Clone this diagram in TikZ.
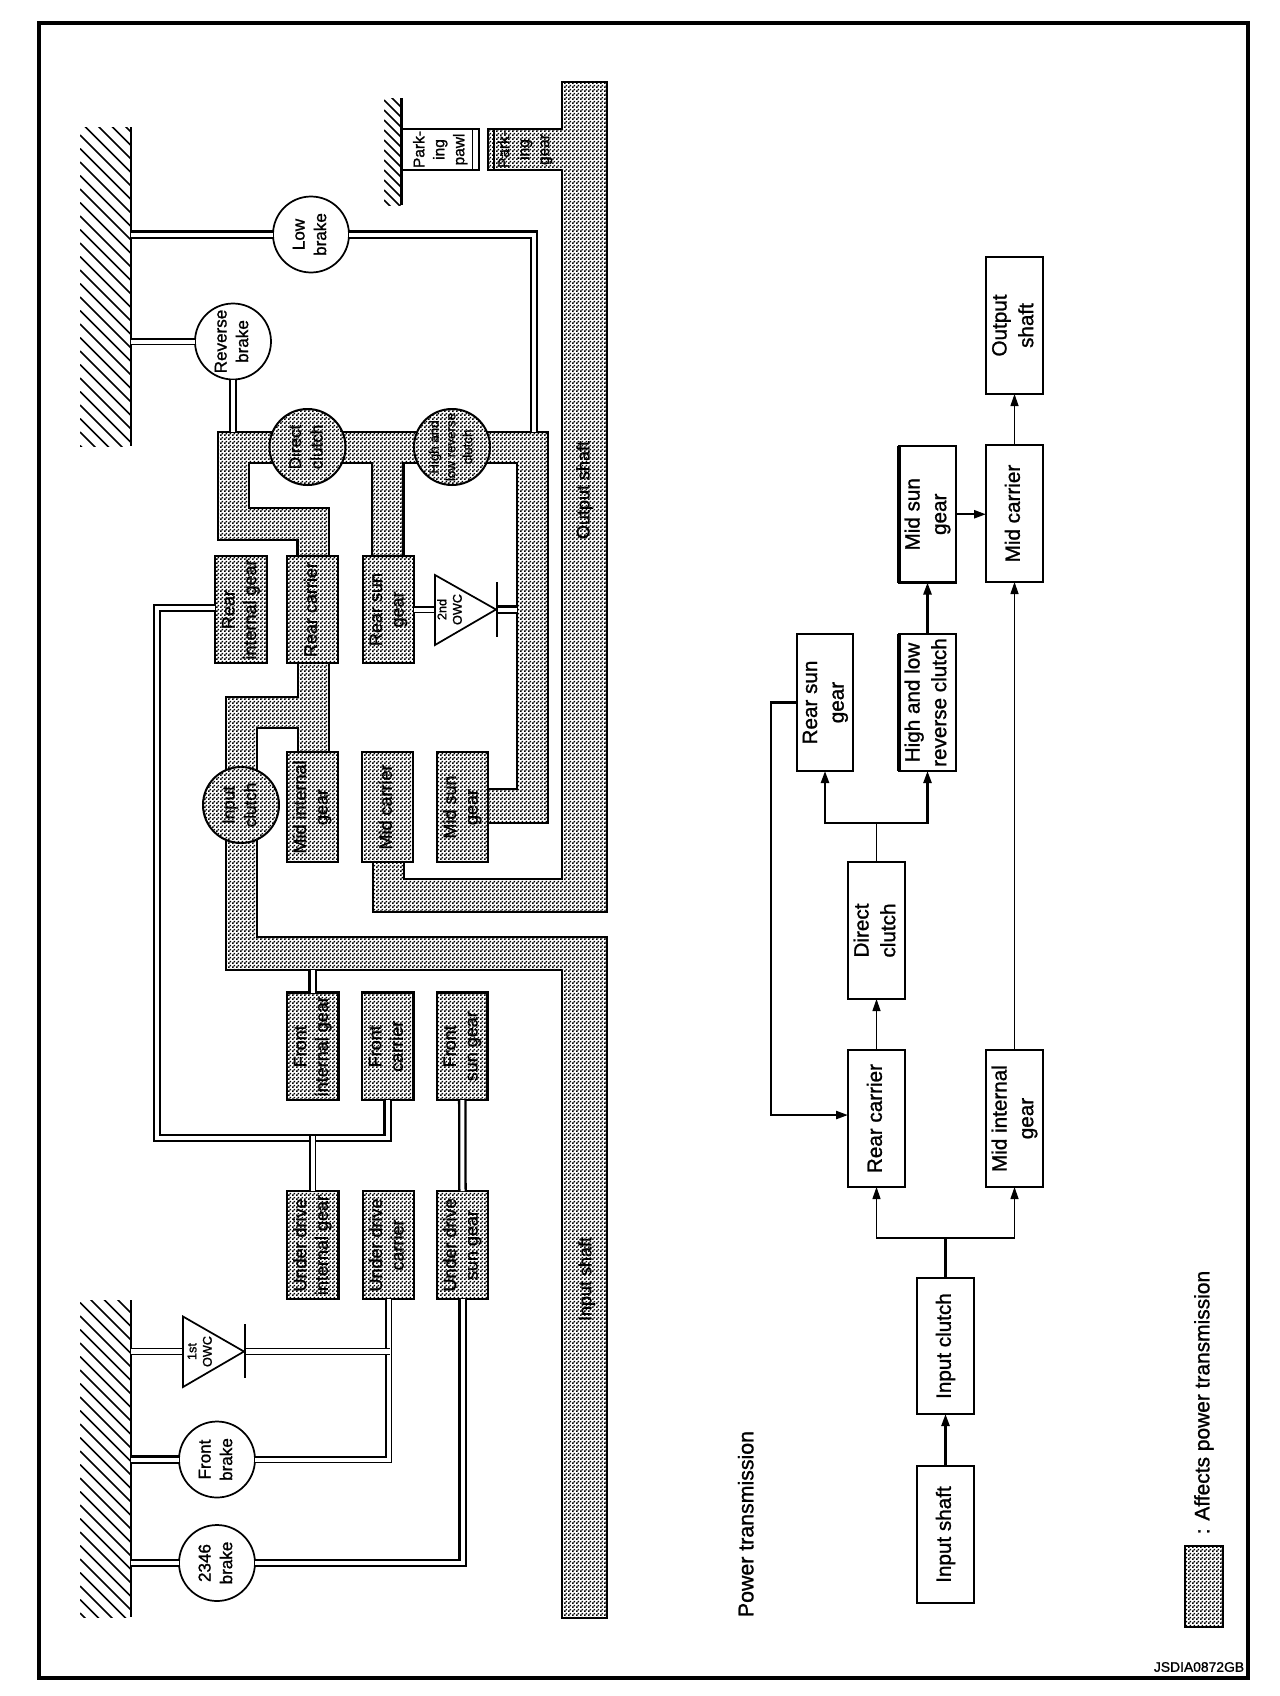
\documentclass[tikz,border=0pt]{standalone}
\usepackage{graphicx}
\usepackage{fontspec}
\setmainfont[FakeBold=1.2]{Liberation Sans}
\usetikzlibrary{patterns,arrows.meta,calc}
\pgfdeclarepatternformonly{dither}{\pgfqpoint{0pt}{0pt}}{\pgfqpoint{3pt}{3pt}}{\pgfqpoint{3pt}{3pt}}{%
  \pgfpathrectangle{\pgfqpoint{0pt}{0pt}}{\pgfqpoint{1.42pt}{1.42pt}}%
  \pgfpathrectangle{\pgfqpoint{1.5pt}{1.5pt}}{\pgfqpoint{1.42pt}{1.42pt}}%
  \pgfusepath{fill}}
\newcommand\rt[1]{\rotatebox{90}{\begin{tabular}{@{}c@{}}#1\end{tabular}}}
% style, x1, y1, x2, y2, name, text
\newcommand\nbox[7]{\node[#1,minimum width={(#4-#2)*0.75pt},minimum height={(#5-#3)*0.75pt}] (#6) at ({(#2+#4)/2},{(#3+#5)/2}) {\rt{#7}};}
% x1,y1,x2,y2,first,second,last
\newcommand\hatchg[7]{\begin{scope}\clip (#1,#2) rectangle (#3,#4);
  \foreach \d in {#5,#6,...,#7} \draw[hatchline] (#1,\d) -- ++(70,70);\end{scope}}
\tikzset{
  shade/.style={preaction={fill=white},pattern=dither,draw,line width=1.6pt,line join=miter},
  gearbox/.style={shade,rectangle,inner sep=0pt,outer sep=0pt,line width=2pt,font=\fontsize{13.5}{16.2}\selectfont},
  flowbox/.style={rectangle,draw,fill=white,inner sep=0pt,outer sep=0pt,line width=1.9pt,font=\fontsize{15.5}{20}\selectfont},
  plainbox/.style={rectangle,draw,fill=white,inner sep=0pt,outer sep=0pt,line width=1.5pt,font=\fontsize{11.6}{15}\selectfont},
  lbl/.style={inner sep=0pt,outer sep=0pt,font=\fontsize{13.5}{16.2}\selectfont},
  disclbl/.style={inner sep=0pt,outer sep=0pt,font=\fontsize{12.8}{16.2}\selectfont},
  anchorbox/.style={rectangle,inner sep=0pt,outer sep=0pt},
  brake/.style={circle,draw,fill=white,line width=1.3pt,inner sep=0pt,outer sep=0pt,minimum size=57pt},
  clutch/.style={circle,shade,line width=1.5pt,inner sep=0pt,outer sep=0pt,minimum size=57pt},
  hatchline/.style={line width=1.1pt},
  wall/.style={line width=2pt},
  dbl/.style={double,line width=1.7pt,double distance=3pt},
  dbln/.style={double,line width=1.2pt,double distance=3pt},
  dblthin/.style={double,line width=0.9pt,double distance=3.6pt},
  owc/.style={draw,fill=white,line width=1.3pt,line join=miter},
  owcbar/.style={line width=1.2pt},
  thinarrow/.style={line width=0.9pt,-{Triangle[width=6pt,length=9pt]}},
  thickarrow/.style={line width=1.8pt,-{Triangle[width=6pt,length=9pt]}},
  thinline/.style={line width=0.9pt},
  thickline/.style={line width=1.8pt},
}
\begin{document}
\begin{tikzpicture}[x=0.75pt,y=-0.75pt]
\useasboundingbox (0,0) rectangle (1280,1696);
\draw[line width=3pt] (39,23) rectangle (1248,1678);

% shaded shafts and drums
\draw[shade] (218,432) -- (548,432) -- (548,823) -- (488,823) -- (488,789) -- (517,789) -- (517,463)
  -- (403.5,463) -- (403.5,556) -- (372,556) -- (372,463) -- (248.6,463) -- (248.6,508) -- (328.6,508)
  -- (328.6,556) -- (297.5,556) -- (297.5,540) -- (218,540) -- cycle;
\draw[shade] (562,1618) -- (607,1618) -- (607,937) -- (257,937) -- (257,728) -- (298,728) -- (298,752)
  -- (329,752) -- (329,663) -- (298,663) -- (298,697) -- (226,697) -- (226,970) -- (562,970) -- cycle;
\draw[shade] (562,82) -- (607,82) -- (607,912) -- (373,912) -- (373,862) -- (404,862) -- (404,879)
  -- (562,879) -- (562,170) -- (488,170) -- (488,129) -- (562,129) -- cycle;

% grounds
\nbox{anchorbox}{80}{127}{131}{446}{gtop}{}
\nbox{anchorbox}{80}{1300}{131}{1617}{gbot}{}
\nbox{anchorbox}{384}{98}{401.5}{205}{gpark}{}
\hatchg{80}{127}{131}{446}{67.5}{81}{446}
\hatchg{80}{1300}{131}{1617}{1235}{1248.5}{1617}
\hatchg{384}{98}{401.5}{205}{70}{80}{205}
\draw[wall] (gtop.north east) -- (gtop.south east);
\draw[wall] (gbot.north east) -- (gbot.south east);
\draw[wall] (gpark.north east) -- (gpark.south east);

% clutches and brakes
\node[brake] (low) at (311,234.5) {};
\node[brake] (rev) at (233,341.5) {};
\node[brake] (fb) at (217,1459.5) {};
\node[brake] (b2346) at (217,1563) {};
\node[clutch] (dc1) at (307.5,447) {};
\node[clutch] (hl1) at (452,447) {};
\node[clutch] (ic1) at (241,805) {};
\node[disclbl] (lowt) at (low) {\rt{Low\\brake}};
\node[disclbl] (revt) at (rev) {\rt{Reverse\\brake}};
\node[disclbl] (fbt) at (fb) {\rt{Front\\brake}};
\node[disclbl] (b2346t) at (b2346) {\rt{2346\\brake}};
\node[disclbl] (dc1t) at (dc1) {\rt{Direct\\clutch}};
\node[disclbl,font=\fontsize{10}{12.6}\selectfont] (hl1t) at (hl1) {\rt{High and\\low reverse\\clutch}};
\node[disclbl] (ic1t) at (ic1) {\rt{Input\\clutch}};

% gear elements
\nbox{gearbox}{215}{556}{267}{663}{ri}{Rear\\internal gear}
\nbox{gearbox}{287}{556}{338}{663}{rc1}{Rear carrier}
\nbox{gearbox}{363}{556}{414}{663}{rs1}{Rear sun\\gear}
\nbox{gearbox}{287}{752}{338}{862}{mi1}{Mid internal\\gear}
\nbox{gearbox}{362}{752}{413}{862}{mc1}{Mid carrier}
\nbox{gearbox}{437}{752}{488}{862}{ms1}{Mid sun\\gear}
\nbox{gearbox}{287}{992.5}{338.5}{1100}{fi}{Front\\internal gear}
\nbox{gearbox}{362}{992.5}{413.5}{1100}{fc}{Front\\carrier}
\nbox{gearbox}{437}{992.5}{487.5}{1100}{fs}{Front\\sun gear}
\nbox{gearbox}{287}{1191}{338.5}{1299}{ui}{Under drive\\internal gear}
\nbox{gearbox}{363}{1191}{414}{1299}{uc}{Under drive\\carrier}
\nbox{gearbox}{437}{1191}{488}{1299}{us}{Under drive\\sun gear}

% parking
\nbox{plainbox}{401.5}{129}{479}{170}{pawl}{Park-\\ing\\pawl}
\nbox{anchorbox,font=\fontsize{11.6}{15}\selectfont}{488}{129}{562}{170}{pgear}{Park-\\ing\\gear}
\draw[line width=1pt] ([xshift=-5pt]pawl.north east) -- ([xshift=-5pt]pawl.south east);
\draw[line width=1pt] ([xshift=4.5pt]pgear.north west) -- ([xshift=4.5pt]pgear.south west);

% shaft labels
\node[lbl] (inlabel) at (587,1279) {\rt{Input shaft}};
\node[lbl] (outlabel) at (585,490) {\rt{Output shaft}};

% connection points on the drums
\coordinate (drumA) at (534,432);
\coordinate (drumB) at (233,432);
\coordinate (drumC) at (312.75,970);
\coordinate (drumD) at (517,609.5);
\coordinate (busL) at (157,1138);
\coordinate (busT) at (312.75,1135.8);
\coordinate (tri2base) at (435,609.5);
\coordinate (tri2apex) at (496,609.5);
\coordinate (tri1base) at (183,1351.5);
\coordinate (tri1apex) at (244,1351.5);
\coordinate (tri1end) at (389.6,1351.5);

% double connectors
\draw[dbl] (low.west) -- (low.west -| gtop.east);
\draw[dbl] (low.east) -| (drumA);
\draw[dbln] (rev.west) -- (rev.west -| gtop.east);
\draw[dbl] (rev.south) -- (drumB);
\draw[dbl] (fi.north) -- (drumC);
\draw[dbl] ([yshift=1pt]ri.west) -| (busL) -| (fc.south);
\draw[dbln] (ui.north) -- (busT);
\draw[dbl] (fs.south) -- (us.north);
\draw[dbl] (us.south) |- (b2346.east);
\draw[dbl] (b2346.west) -- (b2346.west -| gbot.east);
\draw[dbln] (uc.south) |- (fb.east);
\draw[dbl] (fb.west) -- (fb.west -| gbot.east);
\draw[dblthin] (tri1base) -- (tri1base -| gbot.east);
\draw[dblthin] (tri1apex) -- (tri1end);
\draw[dbln] (rs1.east) -- (tri2base);
\draw[dbl] (tri2apex) -- (drumD);

% one-way clutches
\draw[owc] (183,1316.5) coordinate (t1a) -- (183,1387) coordinate (t1b) -- (tri1apex) -- cycle;
\draw[owcbar] (245,1324) -- (245,1378);
\draw[owc] (435,575) coordinate (t2a) -- (435,645) coordinate (t2b) -- (tri2apex) -- cycle;
\draw[owcbar] (497,582) -- (497,637);
\node[lbl,font=\fontsize{9.5}{11.5}\selectfont] (owc1) at (201,1351.5) {\rt{1st\\OWC}};
\node[lbl,font=\fontsize{9.5}{11.5}\selectfont] (owc2) at (451,609.5) {\rt{2nd\\OWC}};

% flow chart
\nbox{flowbox}{917}{1466}{974}{1603}{is}{Input shaft}
\nbox{flowbox}{917}{1278}{974}{1414}{ic}{Input clutch}
\nbox{flowbox}{848}{1050}{905}{1187}{rc}{Rear carrier}
\nbox{flowbox}{986}{1050}{1043}{1187}{mi}{Mid internal\\gear}
\nbox{flowbox}{848}{862}{905}{999}{dc}{Direct\\clutch}
\nbox{flowbox,line width=1.5pt}{797}{634}{853}{771}{rs}{Rear sun\\gear}
\nbox{flowbox}{899}{634}{956}{771}{hl}{High and low\\reverse clutch}
\nbox{flowbox}{899}{446}{956}{582.5}{ms}{Mid sun\\gear}
\nbox{flowbox}{986}{445}{1043}{582}{mc}{Mid carrier}
\nbox{flowbox}{986}{257}{1043}{394}{os}{Output\\shaft}
\draw[line width=2.6pt] (hl.north west) -- (hl.south west);
\draw[line width=2.6pt] (ms.north west) -- (ms.south west);
\coordinate (jb) at (945.5,1238);
\coordinate (jt) at (876.5,823);
\coordinate (fbk) at (771,702.5);
\draw[thickarrow] (is.north) -- (ic.south);
\draw[thickline] (ic.north) -- (jb);
\draw[thinarrow] (jb) -| (rc.south);
\draw[thinarrow] (jb) -| (mi.south);
\draw[thinarrow] (rc.north) -- (dc.south);
\draw[thinline] (dc.north) -- (jt);
\draw[thickarrow] (jt) -| (rs.south);
\draw[thickarrow] (jt) -| (hl.south);
\draw[thickarrow] (hl.north) -- (ms.south);
\draw[thickarrow] (ms.east) -- (ms.east -| mc.west);
\draw[thinarrow] (mi.north) -- (mc.south);
\draw[thinarrow] (mc.north) -- (os.south);
\draw[thickarrow] (rs.west) -- (fbk) |- ([yshift=2.6pt]rc.west);

% captions
\node[lbl,font=\fontsize{16}{20}\selectfont] (title) at (748,1524) {\rt{Power transmission}};
\nbox{gearbox}{1185}{1546}{1223}{1627}{legend}{}
\node[lbl,font=\fontsize{15.7}{20}\selectfont] (legendtext) at (1204,1402.5) {\rt{: Affects power transmission}};
\node[lbl,font=\fontsize{10.4}{12}\selectfont] (code) at (1199,1667) {JSDIA0872GB};
\end{tikzpicture}
\end{document}
